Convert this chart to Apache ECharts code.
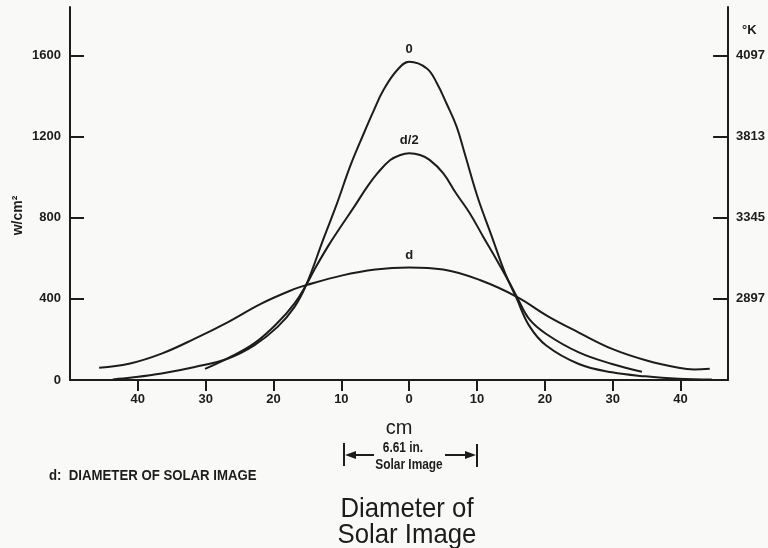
<!DOCTYPE html>
<html>
<head>
<meta charset="utf-8">
<script src="https://cdn.jsdelivr.net/npm/echarts@6/dist/echarts.min.js"></script>
<style>
  html, body { margin: 0; padding: 0; background: #f9f9f8; }
  #chart { width: 768px; height: 548px; }
</style>
</head>
<body>
<div id="chart"></div>
<script>
// cm from centre of the image (left side negative) and w/cm^2
const zeroX = [-43.7, -40.9, -36.5, -31.6, -26.7, -22.8, -19.4, -16.9, -15.2, -12.6, -10.6, -8.7, -6.7, -5.2, -3.8, -1.8, 0, 2.6, 4.1, 5.5, 7, 8.2, 10.1, 12.1, 14.1, 15.8, 17.7, 20.2, 25, 29.9, 34.8, 39.7, 44.6]
const zeroY = [3, 12, 32, 64, 106, 172, 262, 361, 468, 700, 875, 1055, 1216, 1331, 1430, 1528, 1570, 1537, 1463, 1364, 1249, 1115, 900, 715, 530, 405, 267, 170, 79, 38, 18, 6, 2]

const halfX = [-30.1, -26.7, -22.8, -19.4, -16.9, -15.2, -14, -12, -10.1, -8.1, -6.2, -4.7, -2.8, -1.3, 0, 1.6, 3, 5, 6.9, 8.9, 10.9, 12.9, 14.8, 15.8, 17.7, 20.2, 25, 29.9, 34.3]
const halfY = [55, 108, 182, 282, 378, 468, 543, 658, 756, 855, 953, 1019, 1085, 1110, 1118, 1110, 1086, 1021, 921, 824, 707, 592, 478, 415, 300, 227, 136, 79, 41]

const dX = [-45.7, -41.3, -36.5, -31.6, -26.7, -21.8, -17, -15.2, -10, -5, 0, 5, 10.5, 16, 20.4, 25, 30, 35, 39.7, 42, 44.3]
const dY = [60, 80, 130, 204, 286, 377, 448, 468, 515, 545, 555, 545, 492, 408, 315, 234, 152, 96, 60, 52, 56]

const curveNames = ['0', 'd/2', 'd']

const xTicks = [-40, -30, -20, -10, 0, 10, 20, 30, 40]
const wTicks = [0, 400, 800, 1200, 1600]
const kTicks = [400, 800, 1200, 1600]
const kLabels = ['2897', '3345', '3813', '4097']

const sans = '"Liberation Sans", Arial, sans-serif'
const ink = '#1c1c1c'

function buildData(xs, ys, name) {
  return xs.map((x, i) => {
    if (x === 0) {
      return {
        value: [x, ys[i]],
        label: { show: true, formatter: name, position: 'top', distance: 6,
                 fontFamily: sans, fontWeight: 'bold', fontSize: 13, color: ink }
      }
    }
    return [x, ys[i]]
  })
}

function curve(name, xs, ys) {
  return {
    name: name,
    type: 'line',
    smooth: 0.4,
    showSymbol: true,
    symbolSize: 0,
    silent: true,
    lineStyle: { color: ink, width: 2 },
    itemStyle: { color: ink },
    label: { show: false },
    data: buildData(xs, ys, name)
  }
}

const tickFont = { fontFamily: sans, fontWeight: 'bold', fontSize: 13, color: ink }

const chart = echarts.init(document.getElementById('chart'))
chart.setOption({
  backgroundColor: '#f9f9f8',
  animation: false,
  grid: { left: 70, right: 39, top: 7, bottom: 168 },
  xAxis: {
    type: 'value',
    min: -50,
    max: 47,
    name: 'cm',
    nameLocation: 'middle',
    nameGap: 38,
    nameTextStyle: { fontFamily: sans, fontSize: 20, color: ink },
    axisLine: { onZero: false, lineStyle: { color: ink, width: 2 } },
    axisTick: { customValues: xTicks, length: 11, lineStyle: { color: ink, width: 2 } },
    axisLabel: Object.assign({ customValues: xTicks, formatter: v => String(Math.abs(v)), margin: 13 }, tickFont),
    splitLine: { show: false }
  },
  yAxis: [{
    type: 'value',
    min: 0,
    max: 1840,
    name: 'w/cm²',
    nameLocation: 'middle',
    nameRotate: 90,
    nameGap: 45,
    nameMoveOverlap: false,
    nameTextStyle: { fontFamily: sans, fontWeight: 'bold', fontSize: 14, color: ink, padding: [0, 44, 0, 0] },
    axisLine: { onZero: false, lineStyle: { color: ink, width: 2 } },
    axisTick: { inside: true, customValues: wTicks, length: 14, lineStyle: { color: ink, width: 2 } },
    axisLabel: Object.assign({ customValues: wTicks, formatter: v => String(v), margin: 9 }, tickFont),
    splitLine: { show: false }
  }, {
    type: 'value',
    position: 'right',
    min: 0,
    max: 1840,
    name: '°K',
    nameLocation: 'end',
    nameGap: -17,
    nameTextStyle: { fontFamily: sans, fontWeight: 'bold', fontSize: 13, color: ink,
                     align: 'left', verticalAlign: 'top', padding: [0, 0, 0, 14] },
    axisLine: { onZero: false, lineStyle: { color: ink, width: 2 } },
    axisTick: { inside: true, customValues: kTicks, length: 15, lineStyle: { color: ink, width: 2 } },
    axisLabel: Object.assign({ customValues: kTicks, formatter: v => kLabels[kTicks.indexOf(v)], margin: 8 }, tickFont),
    splitLine: { show: false }
  }],
  series: [
    curve(curveNames[0], zeroX, zeroY),
    curve(curveNames[1], halfX, halfY),
    curve(curveNames[2], dX, dY)
  ],
  graphic: [
    // 6.61 in. bracket
    { type: 'line', shape: { x1: 344, y1: 443, x2: 344, y2: 466 }, style: { stroke: ink, lineWidth: 2 } },
    { type: 'line', shape: { x1: 477, y1: 444, x2: 477, y2: 467 }, style: { stroke: ink, lineWidth: 2 } },
    { type: 'line', shape: { x1: 352, y1: 455, x2: 374, y2: 455 }, style: { stroke: ink, lineWidth: 2 } },
    { type: 'line', shape: { x1: 445, y1: 455, x2: 468, y2: 455 }, style: { stroke: ink, lineWidth: 2 } },
    { type: 'polygon', shape: { points: [[345, 455], [356, 451], [356, 459]] }, style: { fill: ink } },
    { type: 'polygon', shape: { points: [[476, 455], [465, 451], [465, 459]] }, style: { fill: ink } },
    { type: 'text', x: 403, y: 448, scaleX: 0.85, style: { text: '6.61 in.', align: 'center', verticalAlign: 'middle',
      font: 'bold 14px ' + sans, fill: ink } },
    { type: 'text', x: 409, y: 465, scaleX: 0.85, style: { text: 'Solar Image', align: 'center', verticalAlign: 'middle',
      font: 'bold 14px ' + sans, fill: ink } },
    { type: 'text', x: 49, y: 476, scaleX: 0.88, style: { text: 'd:  DIAMETER OF SOLAR IMAGE', align: 'left', verticalAlign: 'middle',
      font: 'bold 15px ' + sans, fill: ink } },
    { type: 'text', x: 407, y: 509, scaleX: 0.92, style: { text: 'Diameter of', align: 'center', verticalAlign: 'middle',
      font: '28px ' + sans, fill: ink } },
    { type: 'text', x: 407, y: 535, scaleX: 0.92, style: { text: 'Solar Image', align: 'center', verticalAlign: 'middle',
      font: '28px ' + sans, fill: ink } }
  ]
})
</script>
</body>
</html>
